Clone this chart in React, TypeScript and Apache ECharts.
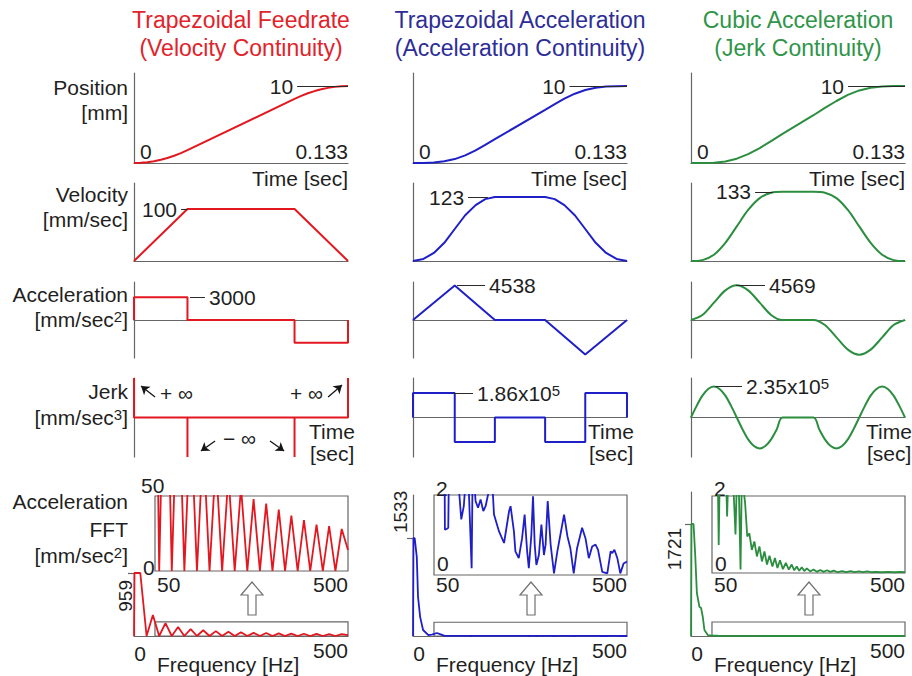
import React, { useEffect, useRef } from 'react';
import * as echarts from 'echarts';

const FONT = '"Liberation Sans", Arial, Helvetica, sans-serif';
const INK = '#1f1f1f';
const AXIS = '#666666';

const TITLES = [
  ['Trapezoidal Feedrate', '(Velocity Continuity)'],
  ['Trapezoidal Acceleration', '(Acceleration Continuity)'],
  ['Cubic Acceleration', '(Jerk Continuity)'],
];
const TITLE_COLORS = ['#e1232b', '#2d2d97', '#2f9549'];
const CURVE_COLORS = ['#e3171f', '#1f1fc8', '#2b8e3f'];

// Motion duration [s] and spectrum range [Hz]
const T_END = 0.1333;
const F_MAX = 510;
const ZOOM_F_MIN = 50;

// Annotated peak values per profile
const POSITION_END = [10, 10, 10];
const VELOCITY_PEAK = [100, 123, 133];
const ACCEL_PEAK = [3000, 4538, 4569];
const JERK_PEAK = [null, 1.86e5, 2.35e5];
const FFT_PEAK = [959, 1533, 1721];

// ---- Trapezoidal feedrate profile: [time s, value]
const FEED_POSITION = [[0, 0], [0.0042, 0.026], [0.0083, 0.104], [0.0125, 0.234], [0.0167, 0.417], [0.0208, 0.651], [0.025, 0.938], [0.0292, 1.276], [0.0333, 1.667], [0.1, 8.333], [0.1042, 8.724], [0.1083, 9.062], [0.1125, 9.349], [0.1167, 9.583], [0.1208, 9.766], [0.125, 9.896], [0.1292, 9.974], [0.1333, 10]];
const FEED_VELOCITY = [[0, 0], [0.0333, 100], [0.1, 100], [0.1333, 0]];
const FEED_ACCEL = [[0, 0], [0, 3000], [0.0333, 3000], [0.0333, 0], [0.1, 0], [0.1, -3000], [0.1333, -3000], [0.1333, 0]];
// impulses drawn to the edge of the jerk axis
const FEED_JERK = [[0, 300000], [0, 0], [0.0333, 0], [0.0333, -300000], [0.0333, 0], [0.1, 0], [0.1, -300000], [0.1, 0], [0.1333, 0], [0.1333, 300000]];
const FEED_FFT = [[0, 0], [1, 959], [15, 959], [30, 0], [45, 320], [60, 0], [75, 195], [90, 0], [105, 137], [120, 0], [135, 105], [150, 0], [165, 87], [180, 0], [195, 74], [210, 0], [225, 64], [240, 0], [255, 56], [270, 0], [285, 48], [300, 0], [315, 45], [330, 0], [345, 41], [360, 0], [375, 37], [390, 0], [405, 34], [420, 0], [435, 31], [450, 0], [465, 30], [480, 0], [495, 28], [510, 14]];

// ---- Trapezoidal acceleration profile
const TRAPACC_POSITION = [[0, 0], [0.0065, 0.008], [0.013, 0.064], [0.0195, 0.216], [0.026, 0.51], [0.0325, 0.99], [0.039, 1.64], [0.045, 2.35], [0.051, 3.1], [0.0823, 6.9], [0.0883, 7.65], [0.0943, 8.36], [0.1008, 9.01], [0.1073, 9.49], [0.1138, 9.784], [0.1203, 9.936], [0.1268, 9.992], [0.1333, 10]];
const TRAPACC_VELOCITY = [[0, 0], [0.0065, 4], [0.013, 15.5], [0.0195, 35], [0.026, 61.5], [0.0325, 88], [0.039, 107.5], [0.045, 119], [0.051, 123], [0.0823, 123], [0.0883, 119], [0.0943, 107.5], [0.1008, 88], [0.1073, 61.5], [0.1138, 35], [0.1203, 15.5], [0.1268, 4], [0.1333, 0]];
const TRAPACC_ACCEL = [[0, 0], [0.026, 4538], [0.051, 0], [0.0823, 0], [0.1073, -4538], [0.1333, 0]];
const TRAPACC_JERK = [[0, 0], [0, 186000], [0.026, 186000], [0.026, -186000], [0.051, -186000], [0.051, 0], [0.0823, 0], [0.0823, -186000], [0.1073, -186000], [0.1073, 186000], [0.1333, 186000], [0.1333, 0]];
const TRAPACC_FFT = [[0, 0], [1, 1533], [4, 1533], [9, 1240], [12, 610], [17, 300], [24, 94], [36, 16], [45, 20], [57, 47], [66, 25], [74, 5], [76, 1.13], [80, 1.15], [84, 1.18], [86, 3], [97, 3.5], [109, 2.2], [115, 1.39], [121, 1.72], [125, 2.3], [132, 2.4], [139.7, 0.17], [142, 2.5], [147, 2.2], [149, 1.85], [155, 1.68], [161, 1.89], [167.5, 1.6], [173, 1.72], [178.6, 2.0], [184, 2.3], [190, 2.1], [193, 1.51], [205, 1.09], [217, 0.8], [229, 1.6], [232.5, 1.72], [240.5, 1.09], [244, 0.59], [252, 0.42], [260, 0.92], [266, 1.51], [272, 0.59], [276, 0.17], [282, 1.0], [286, 1.97], [290, 0.76], [294, 0.25], [300, 0.5], [306, 1.26], [312, 0.5], [316, 0.76], [321, 1.85], [328, 0.76], [336, 0.04], [344, 0.59], [352, 1.05], [360, 1.51], [368, 0.97], [375, 0.67], [383, 0.04], [391, 0.67], [403, 1.18], [411, 0.92], [419, 0.42], [427, 0.71], [435, 0.76], [441, 0.63], [451, 0.08], [463, 0.04], [471, 0.59], [475, 0.55], [480, 0.63], [487, 0.42], [494, 0.04], [502, 0.29], [510, 0.34]];

// ---- Cubic acceleration profile
const CUBIC_POSITION = [[0, 0], [0.0071, 0.003], [0.0143, 0.045], [0.0214, 0.205], [0.0285, 0.563], [0.0356, 1.15], [0.0428, 1.94], [0.0499, 2.84], [0.057, 3.79], [0.0763, 6.21], [0.0834, 7.16], [0.0906, 8.06], [0.0977, 8.85], [0.1048, 9.437], [0.1119, 9.795], [0.1191, 9.955], [0.1262, 9.997], [0.1333, 10]];
const CUBIC_VELOCITY = [[0, 0], [0.0071, 1.7], [0.0143, 12.1], [0.0214, 34.9], [0.0285, 66.5], [0.0356, 98.1], [0.0428, 120.9], [0.0499, 131.3], [0.057, 133], [0.0763, 133], [0.0834, 131.3], [0.0906, 120.9], [0.0977, 98.1], [0.1048, 66.5], [0.1119, 34.9], [0.1191, 12.1], [0.1262, 1.7], [0.1333, 0]];
const CUBIC_ACCEL = [[0, 0], [0.0071, 668], [0.0143, 2285], [0.0214, 3901], [0.0285, 4569], [0.0356, 3901], [0.0428, 2285], [0.0499, 668], [0.057, 0], [0.0763, 0], [0.0834, -668], [0.0906, -2285], [0.0977, -3901], [0.1048, -4569], [0.1119, -3901], [0.1191, -2285], [0.1262, -668], [0.1333, 0]];
const CUBIC_JERK = [[0, 0], [0.0036, 90000], [0.0071, 166000], [0.0107, 217000], [0.0143, 235000], [0.0178, 217000], [0.0214, 166000], [0.0249, 90000], [0.0285, 0], [0.0321, -90000], [0.0356, -166000], [0.0392, -217000], [0.0428, -235000], [0.0463, -217000], [0.0499, -166000], [0.0534, -90000], [0.057, 0], [0.0763, 0], [0.0799, -90000], [0.0834, -166000], [0.087, -217000], [0.0906, -235000], [0.0941, -217000], [0.0977, -166000], [0.1012, -90000], [0.1048, 0], [0.1084, 90000], [0.1119, 166000], [0.1155, 217000], [0.1191, 235000], [0.1226, 217000], [0.1262, 166000], [0.1297, 90000], [0.1333, 0]];
const CUBIC_FFT = [[0, 0], [1, 1721], [6, 1721], [10, 1250], [14, 661], [20, 450], [24, 430], [28, 296], [32, 92], [40, 15], [48, 10], [56, 6], [62, 4], [66, 0.73], [69, 3], [78, 2.6], [84, 2.3], [86, 1.47], [89, 2.6], [100, 2.5], [106, 1.0], [109, 2.3], [114, 2.2], [118, 0.09], [121, 2.4], [126, 2.1], [129, 1.8], [134, 0.95], [139, 1.03], [145, 0.6], [151, 0.82], [157, 0.43], [163, 0.69], [169, 0.3], [175, 0.56], [181, 0.22], [187, 0.45], [194, 0.17], [200, 0.39], [206, 0.13], [212, 0.33], [219, 0.1], [226, 0.26], [233, 0.09], [240, 0.22], [246, 0.07], [252, 0.17], [258, 0.06], [264, 0.15], [270, 0.05], [276, 0.12], [284, 0.04], [292, 0.09], [300, 0.03], [308, 0.08], [316, 0.03], [324, 0.07], [332, 0.03], [340, 0.06], [350, 0.02], [360, 0.05], [370, 0.02], [380, 0.05], [390, 0.02], [400, 0.04], [410, 0.02], [420, 0.04], [430, 0.02], [440, 0.03], [455, 0.02], [470, 0.03], [485, 0.02], [500, 0.03], [510, 0.02]];

const PROFILES = [
  { position: FEED_POSITION, velocity: FEED_VELOCITY, accel: FEED_ACCEL, jerk: FEED_JERK, fft: FEED_FFT },
  { position: TRAPACC_POSITION, velocity: TRAPACC_VELOCITY, accel: TRAPACC_ACCEL, jerk: TRAPACC_JERK, fft: TRAPACC_FFT },
  { position: CUBIC_POSITION, velocity: CUBIC_VELOCITY, accel: CUBIC_ACCEL, jerk: CUBIC_JERK, fft: CUBIC_FFT },
];

// Axis extents
const POS_MAX = 11.7;
const VEL_MAX = 150;
const ACC_LIM = 5000;
const JERK_LIM = 300000;
const FFT_MAX = [959, 2207, 2212];
const ZOOM_MAX = [50, 2, 2];
const ZOOM_BOX_HEIGHT = 215;

// Layout (pixels)
const COL_X = [134, 413, 691];
const PLOT_W = 214;
const ROW_POS = { top: 73, height: 90 };
const ROW_VEL = { top: 183, height: 78 };
const ROW_ACC = { top: 282, height: 76 };
const ROW_JERK = { top: 378, height: 79 };
const FFT_BOTTOM = 636;
const FFT_TOP = [573, 495, 492];
const ZOOM_TOP = [496, 495, 496];
const ZOOM_BOTTOM = [571, 575, 573];
const ZOOM_OFFSET = 21;
const ZOOM_W = 193;

// Leader segments for the peak labels, in seconds
const POS_LEADER = [[0.1016, 0.1333], [0.0975, 0.1333], [0.0978, 0.1333]];
const VEL_LEADER = [[0.0293, 0.0333], [0.0343, 0.0467], [0.0399, 0.0511]];
const ACC_LEADER = [[0.0349, 0.0442], [0.0274, 0.0449], [0.028, 0.0461]];
const JERK_LEADER = [null, [0.0249, 0.0374], [0.015, 0.0318]];

const SUP_RICH = { sup: { fontSize: 15, verticalAlign: 'top', fontFamily: FONT, color: INK, fill: INK } };

function fmtPeak(v: number) {
  if (v >= 1e5) return (v / 1e5).toFixed(2) + 'x10{sup|5}';
  return String(v);
}

function text(x: number, y: number, t: string, o: any = {}) {
  const style: any = {
    text: t,
    fill: o.color || INK,
    fontSize: o.size || 21,
    fontFamily: FONT,
    align: o.align || 'left',
    textAlign: o.align || 'left',
    verticalAlign: 'middle',
    textVerticalAlign: 'middle',
  };
  if (o.rich) style.rich = o.rich;
  return { type: 'text', x, y, rotation: o.rotation || 0, silent: true, style };
}

function leader(range: number[], value: number, side: 'start' | 'end') {
  return {
    silent: true,
    symbol: ['none', 'none'],
    emphasis: { disabled: true },
    lineStyle: { color: '#2a2a2a', width: 1, type: 'solid' },
    label: {
      show: true,
      position: side,
      distance: 4,
      formatter: fmtPeak(value),
      fontSize: 21,
      fontFamily: FONT,
      color: INK,
      rich: SUP_RICH,
    },
    data: [[{ coord: [range[0], value] }, { coord: [range[1], value] }]],
  };
}

function buildOption() {
  const grid: any[] = [];
  const xAxis: any[] = [];
  const yAxis: any[] = [];
  const series: any[] = [];
  const axisLineStyle = { color: AXIS, width: 1.2 };
  const quiet = { axisTick: { show: false }, axisLabel: { show: false }, splitLine: { show: false } };

  const panel = (g: any, x: any, y: any) => {
    const i = grid.length;
    grid.push({ containLabel: false, ...g });
    xAxis.push({ type: 'value', gridIndex: i, ...quiet, ...x });
    yAxis.push({ type: 'value', gridIndex: i, ...quiet, ...y });
    return i;
  };
  const timeAxis = { min: 0, max: T_END, axisLine: { show: true, onZero: true, lineStyle: axisLineStyle } };
  const leftAxis = (min: number, max: number) => ({ min, max, axisLine: { show: true, onZero: false, lineStyle: axisLineStyle } });
  const line = (idx: number, data: any, color: string, extra: any = {}) => ({
    type: 'line', xAxisIndex: idx, yAxisIndex: idx, data, symbol: 'none', showSymbol: false,
    lineStyle: { color, width: 2 }, itemStyle: { color }, clip: true, silent: true,
    emphasis: { disabled: true }, z: 3, ...extra,
  });

  const graphic: any[] = [];

  for (let c = 0; c < 3; c++) {
    const left = COL_X[c];
    const color = CURVE_COLORS[c];
    const p = PROFILES[c];
    const smooth = c === 2 ? 0.3 : false;
    const box = (row: any) => ({ left, top: row.top, width: PLOT_W, height: row.height });

    const iPos = panel(box(ROW_POS), timeAxis, leftAxis(0, POS_MAX));
    series.push(line(iPos, p.position, color, { markLine: leader(POS_LEADER[c], POSITION_END[c], 'start') }));

    const iVel = panel(box(ROW_VEL), timeAxis, leftAxis(0, VEL_MAX));
    series.push(line(iVel, p.velocity, color, { smooth, markLine: leader(VEL_LEADER[c], VELOCITY_PEAK[c], 'start') }));

    const iAcc = panel(box(ROW_ACC), timeAxis, leftAxis(-ACC_LIM, ACC_LIM));
    series.push(line(iAcc, p.accel, color, { smooth, markLine: leader(ACC_LEADER[c], ACCEL_PEAK[c], 'end') }));

    const iJerk = panel(box(ROW_JERK), timeAxis, leftAxis(-JERK_LIM, JERK_LIM));
    const jl = JERK_LEADER[c];
    const jerkPeak = JERK_PEAK[c];
    let jerkMark: any;
    if (jl && jerkPeak) {
      jerkMark = leader(jl, jerkPeak, 'end');
    } else {
      // arrows pointing at the infinite jerk impulses
      jerkMark = {
        silent: true,
        symbol: ['none', 'arrow'],
        symbolSize: 8,
        emphasis: { disabled: true },
        label: { show: false },
        lineStyle: { color: '#151515', width: 1.3, type: 'solid' },
        data: [
          [{ coord: [0.0131, 156000] }, { coord: [0.0044, 239000] }],
          [{ coord: [0.1209, 156000] }, { coord: [0.1296, 247000] }],
          [{ coord: [0.0505, -178000] }, { coord: [0.0417, -254000] }],
          [{ coord: [0.0847, -178000] }, { coord: [0.0935, -254000] }],
        ],
      };
    }
    series.push(line(iJerk, p.jerk, color, { smooth, markLine: jerkMark }));

    // full spectrum
    const peak = FFT_PEAK[c];
    const fftTop = FFT_TOP[c];
    const iFft = panel(
      { left, top: fftTop, width: PLOT_W, height: FFT_BOTTOM - fftTop },
      { min: 0, max: F_MAX, axisLine: { show: true, onZero: false, lineStyle: axisLineStyle } },
      {
        min: 0, max: FFT_MAX[c],
        axisLine: { show: true, onZero: false, lineStyle: axisLineStyle },
        axisTick: { show: true, customValues: [peak], length: 6, lineStyle: { color: AXIS, width: 1.2 } },
      }
    );
    series.push(line(iFft, p.fft, color, {
      lineStyle: { color, width: 1.8 },
      markArea: {
        silent: true,
        emphasis: { disabled: true },
        label: { show: false },
        itemStyle: { color: 'rgba(0,0,0,0)', borderColor: AXIS, borderWidth: 1.2 },
        data: [[{ coord: [ZOOM_F_MIN, 0] }, { coord: [F_MAX, ZOOM_BOX_HEIGHT] }]],
      },
    }));
    // rotated label for the spectrum peak, placed next to its tick
    const tickY = FFT_BOTTOM - (peak / FFT_MAX[c]) * (FFT_BOTTOM - fftTop);
    const peakLabelX = [125, 400, 674][c];
    if (c === 1) {
      graphic.push(text(peakLabelX, tickY - 5, String(peak), { rotation: Math.PI / 2, align: 'left', size: 19 }));
    } else {
      graphic.push(text(peakLabelX, tickY + (c === 0 ? 7 : 4), String(peak), { rotation: Math.PI / 2, align: 'right', size: 19 }));
    }

    // magnified spectrum
    const iZoom = panel(
      { left: left + ZOOM_OFFSET, top: ZOOM_TOP[c], width: ZOOM_W, height: ZOOM_BOTTOM[c] - ZOOM_TOP[c], show: true, borderColor: AXIS, borderWidth: 1.2, backgroundColor: 'rgba(0,0,0,0)' },
      { min: ZOOM_F_MIN, max: F_MAX, axisLine: { show: false } },
      { min: 0, max: ZOOM_MAX[c], axisLine: { show: false } }
    );
    series.push(line(iZoom, p.fft, color, { lineStyle: { color, width: 1.8 } }));
  }

  // ---- texts and decorations
  for (let c = 0; c < 3; c++) {
    const cx = COL_X[c] + PLOT_W / 2;
    graphic.push(text(cx, 20, TITLES[c][0], { align: 'center', size: 23, color: TITLE_COLORS[c] }));
    graphic.push(text(cx, 48, TITLES[c][1], { align: 'center', size: 23, color: TITLE_COLORS[c] }));
  }

  const LX = COL_X[0] - 6;
  graphic.push(text(LX, 87, 'Position', { align: 'right' }));
  graphic.push(text(LX, 112, '[mm]', { align: 'right' }));
  graphic.push(text(LX, 194, 'Velocity', { align: 'right' }));
  graphic.push(text(LX, 219, '[mm/sec]', { align: 'right' }));
  graphic.push(text(LX, 294, 'Acceleration', { align: 'right' }));
  graphic.push(text(LX, 319, '[mm/sec{sup|2}]', { align: 'right', rich: SUP_RICH }));
  graphic.push(text(LX, 391, 'Jerk', { align: 'right' }));
  graphic.push(text(LX, 417, '[mm/sec{sup|3}]', { align: 'right', rich: SUP_RICH }));
  graphic.push(text(LX, 501, 'Acceleration', { align: 'right' }));
  graphic.push(text(LX, 529, 'FFT', { align: 'right' }));
  graphic.push(text(LX, 555, '[mm/sec{sup|2}]', { align: 'right', rich: SUP_RICH }));

  for (let c = 0; c < 3; c++) {
    const x0 = COL_X[c];
    const x1 = x0 + PLOT_W;
    // position panel
    graphic.push(text(x0 + 6, 151, '0'));
    graphic.push(text(x1, 151, '0.133', { align: 'right' }));
    graphic.push(text(x1, 178, 'Time [sec]', { align: 'right' }));
    // jerk panel
    graphic.push(text(x0 + 175, 431, 'Time'));
    graphic.push(text(x0 + 176, 453, '[sec]'));
    // spectrum
    graphic.push(text(x0 + 6, 653, '0', { align: 'center' }));
    graphic.push(text(x1, 650, '500', { align: 'right' }));
    graphic.push(text(x0 + 23, 664, 'Frequency [Hz]'));
    const zl = x0 + ZOOM_OFFSET;
    graphic.push(text(zl + 2, 584, '50'));
    graphic.push(text(zl + ZOOM_W, 584, '500', { align: 'right' }));
    if (c === 0) {
      graphic.push(text(x0 + 7, 485, '50'));
      graphic.push(text(x0 + 9, 567, '0'));
    } else {
      graphic.push(text(zl + 2, 488, '2'));
      graphic.push(text(zl + 3, 563, '0'));
    }
    // outlined arrow pointing from the boxed region to the magnified view
    const ax = x0 + 118;
    graphic.push({
      type: 'polygon', silent: true,
      shape: { points: [[ax - 11, 595], [ax, 582], [ax + 11, 595], [ax + 4, 595], [ax + 4, 615], [ax - 4, 615], [ax - 4, 595]] },
      style: { fill: '#ffffff', stroke: '#707070', lineWidth: 1.2 },
    });
  }
  // infinite impulse notes
  graphic.push(text(160, 393, '+ ∞'));
  graphic.push(text(290, 393, '+ ∞'));
  graphic.push(text(223, 438, '− ∞'));

  return { animation: false, backgroundColor: '#ffffff', grid, xAxis, yAxis, series, graphic };
}

export default function App() {
  const ref = useRef<HTMLDivElement>(null);
  useEffect(() => {
    if (!ref.current) return;
    const chart = echarts.init(ref.current, null, { renderer: 'svg' });
    chart.setOption(buildOption() as any);
    return () => chart.dispose();
  }, []);
  return <div ref={ref} style={{ position: 'absolute', left: 0, top: 0, width: 912, height: 676, background: '#fff' }} />;
}
